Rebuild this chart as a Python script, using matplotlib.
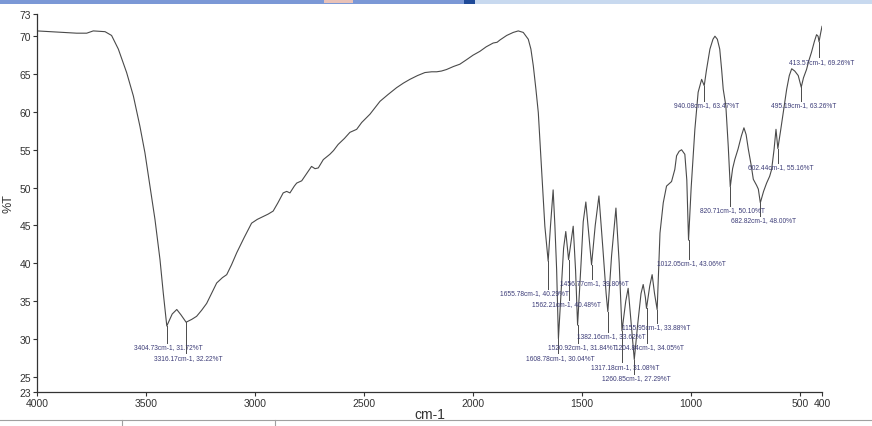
import matplotlib.pyplot as plt
from matplotlib.patches import Rectangle
from matplotlib.lines import Line2D

# spectrum trace (wavenumber cm-1, %T)
wavenumber = [4000, 3879, 3818, 3772, 3742, 3688, 3658, 3627, 3589, 3558, 3528, 3505, 3482, 3459,
              3436, 3421, 3404.73, 3380, 3359, 3340, 3316.17, 3290, 3268, 3245, 3222, 3200, 3176,
              3150, 3130, 3108, 3084, 3050, 3016, 2990, 2962, 2940, 2917, 2895, 2871, 2855, 2840,
              2820, 2809, 2786, 2760, 2741, 2725, 2710, 2687, 2657, 2640, 2619, 2590, 2565, 2534,
              2511, 2473, 2427, 2390, 2351, 2320, 2290, 2255, 2221, 2190, 2167, 2145, 2122, 2090,
              2061, 2030, 2000, 1969, 1940, 1908, 1890, 1877, 1846, 1816, 1793, 1770, 1747, 1735,
              1724, 1712, 1701, 1686, 1671, 1655.78, 1645, 1633, 1625, 1617, 1608.78, 1595, 1585,
              1575, 1562.21, 1550, 1541, 1530, 1520.92, 1505, 1495, 1483, 1470, 1456.77, 1440, 1423,
              1405, 1390, 1382.16, 1365, 1345, 1330, 1317.18, 1300, 1289, 1275, 1260.85, 1245, 1230,
              1220, 1210, 1204.84, 1190, 1179, 1168, 1155.95, 1143, 1128, 1113, 1090, 1075, 1067,
              1055, 1044, 1029, 1020, 1012.05, 1000, 990, 983, 968, 952, 940.08, 930, 914, 900, 891,
              880, 869, 860, 853, 841, 830, 820.71, 810, 800, 785, 770, 758, 748, 738, 725, 715, 700,
              692, 682.82, 668, 654, 640, 631, 620, 611, 602.44, 590, 578, 562, 550, 539, 525, 509,
              495.19, 485, 471, 460, 448, 435, 425, 418, 413.57, 407, 400]
transmittance = [70.7, 70.5, 70.4, 70.4, 70.7, 70.6, 70.1, 68.3, 65.2, 62.1, 58.1, 54.6, 50.2, 45.8,
                 40.5, 36.1, 31.72, 33.3, 33.9, 33.2, 32.22, 32.6, 33.0, 33.8, 34.7, 36.0, 37.4,
                 38.1, 38.5, 39.8, 41.4, 43.4, 45.3, 45.8, 46.2, 46.5, 46.9, 48.0, 49.3, 49.5, 49.3,
                 50.2, 50.6, 50.9, 52.0, 52.8, 52.5, 52.6, 53.7, 54.4, 54.9, 55.7, 56.5, 57.3, 57.7,
                 58.6, 59.7, 61.4, 62.3, 63.2, 63.8, 64.3, 64.8, 65.2, 65.3, 65.3, 65.4, 65.6, 66.0,
                 66.3, 66.9, 67.5, 68.0, 68.6, 69.1, 69.2, 69.5, 70.1, 70.5, 70.7, 70.5, 69.6, 68.3,
                 66.1, 63.0, 59.9, 52.4, 44.9, 40.29, 45.0, 49.7, 45.0, 39.2, 30.04, 37.0, 42.0,
                 44.2, 40.48, 43.0, 44.9, 39.0, 31.84, 40.0, 45.5, 48.1, 44.0, 39.80, 45.0, 48.9,
                 42.0, 36.0, 33.62, 41.0, 47.3, 40.0, 31.08, 35.0, 36.7, 32.0, 27.29, 32.0, 36.0,
                 37.2, 35.5, 34.05, 37.0, 38.5, 36.0, 33.88, 44.0, 48.0, 50.2, 50.8, 52.4, 54.2,
                 54.8, 55.0, 54.4, 51.0, 43.06, 50.0, 54.5, 57.7, 62.6, 64.3, 63.47, 65.5, 68.3, 69.6, 70.0,
                 69.6, 68.3, 65.5, 63.0, 60.8, 55.5, 50.10, 52.5, 53.7, 55.1, 56.8, 57.9, 57.0, 55.1, 53.0, 51.1, 50.3,
                 49.8, 48.00, 49.5, 50.6, 51.5, 52.4, 55.0, 57.7, 55.16, 57.5, 59.9, 63.0, 64.8, 65.7, 65.4, 64.8,
                 63.26, 64.5, 65.6, 66.8, 67.9, 69.3, 70.2, 70.0, 69.26, 70.3, 71.3]

# picked peaks
peak_wn = [3404.73, 3316.17, 1655.78, 1608.78, 1562.21, 1520.92, 1456.77, 1382.16, 1317.18,
           1260.85, 1204.84, 1155.95, 1012.05, 940.08, 820.71, 682.82, 602.44, 495.19, 413.57]
peak_t = [31.72, 32.22, 40.29, 30.04, 40.48, 31.84, 39.80, 33.62, 31.08,
          27.29, 34.05, 33.88, 43.06, 63.47, 50.10, 48.00, 55.16, 63.26, 69.26]
# where each peak label sits (centre, data units)
label_x = [3396, 3306, 1717, 1602, 1570, 1501, 1444, 1368, 1302,
           1250, 1189, 1162, 1001, 931, 811, 670, 591, 483, 401]
label_y = [29.0, 27.6, 36.1, 27.6, 34.7, 29.0, 37.4, 30.4, 26.4,
           24.9, 29.0, 31.6, 40.1, 61.0, 47.1, 45.8, 52.8, 61.0, 66.7]

xticks = [4000, 3500, 3000, 2500, 2000, 1500, 1000, 500, 400]
yticks = [23, 25, 30, 35, 40, 45, 50, 55, 60, 65, 70, 73]

fonts = ['Liberation Sans Narrow', 'Liberation Sans', 'DejaVu Sans']
plt.rcParams['font.family'] = fonts

fig = plt.figure(figsize=(8.72, 4.27), dpi=100)
ax = fig.add_axes([37 / 872, 1 - 393 / 427, 785 / 872, 378.5 / 427])

ax.plot(wavenumber, transmittance, color='#4a4a4a', lw=0.8)

for wn, t, lx, ly in zip(peak_wn, peak_t, label_x, label_y):
    ax.plot([wn, wn], [t, ly + 0.5], color='#4a4a4a', lw=0.7)
    ax.text(lx, ly, '%.2fcm-1, %.2f%%T' % (wn, t), fontsize=4.8, color='#3c3c78',
            ha='center', va='center')

ax.set_xlim(4000, 400)
ax.set_ylim(23, 73)
ax.set_xticks(xticks)
ax.set_yticks(yticks)
ax.tick_params(direction='out', length=3, width=0.8, labelsize=7.5, colors='#333333', pad=1.5)
for s in ['top', 'right']:
    ax.spines[s].set_visible(False)
for s in ['left', 'bottom']:
    ax.spines[s].set_color('#333333')
    ax.spines[s].set_linewidth(0.9)
ax.set_xlabel('cm-1', fontsize=10, color='#333333', labelpad=-1)
ax.set_ylabel('%T', fontsize=9, color='#333333')
ax.yaxis.set_label_coords(-0.029, 0.5)

# bits of the surrounding window from the screenshot
def fig_rect(x0, y0, w, h, color, **kw):
    fig.add_artist(Rectangle((x0 / 872, 1 - (y0 + h) / 427), w / 872, h / 427,
                             transform=fig.transFigure, facecolor=color, edgecolor='none', **kw))

fig_rect(0, 0, 464, 5, '#7b98d6')
fig_rect(464, 0, 11, 5, '#1f4a98')
fig_rect(475, 0, 397, 5, '#c8d9ef')
fig_rect(324, 0, 29, 4, '#e9c2b8')
fig.add_artist(Line2D([0, 1], [1 - 421 / 427] * 2, transform=fig.transFigure, color='#a0a0a0', lw=0.8))
for xd in [122, 275]:
    fig.add_artist(Line2D([xd / 872] * 2, [0, 1 - 421 / 427], transform=fig.transFigure,
                          color='#a0a0a0', lw=0.8))

fig.savefig('out.png', dpi=100)
